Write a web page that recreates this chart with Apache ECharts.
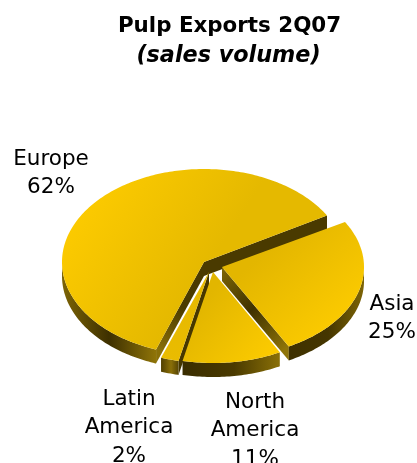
<!DOCTYPE html>
<html>
<head>
<meta charset="utf-8">
<style>html,body{margin:0;padding:0;background:#fff}#c{width:417px;height:463px}</style>
<script src="https://cdn.jsdelivr.net/npm/echarts@6/dist/echarts.min.js"></script>
</head>
<body>
<div id="c"></div>
<script>
// Data, clockwise from the top-right edge of Asia
const categories = ['Asia', 'North\nAmerica', 'Latin\nAmerica', 'Europe'];
const shares = [25, 11, 2, 62];
const titleMain = 'Pulp Exports 2Q07';
const titleSub = '(sales volume)';

// Layout only
const START_DEG = 30, RX = 142, DEPTH = 14;
const radiiY = [90, 91, 91, 93];
const centers = [[222, 267], [213, 272], [209, 272], [204, 262]];
const labelAt = [[392, 290], [255, 388], [129, 385], [51, 145]];
const layerOrder = [10, 30, 20, 0];
const topFill = [
  [[250, 265, 320, 340], ['#e3b600', '#fbca00']],
  [[205, 300, 270, 352], ['#e2b600', '#fbca00']],
  [[170, 300, 190, 360], ['#e6b900', '#eabc00']],
  [[75, 205, 195, 285], ['#fdcb00', '#e5b900']]
];
const wallStops = [
  [[291, 365], ['#3f3100', '#453600', '#7f6606']],
  [[185, 283], ['#3a2d00', '#4a3a00', '#8f7408']],
  [[160, 182], ['#4a3a00', '#8a6f08', '#3f3100']],
  [[62, 156], ['#7d6405', '#3e3000', '#8f7408']]
];
// The near side of the tilted disc looks slightly stretched
const NEAR_SPLIT = 0.38, NEAR_STRETCH = 1.0215;

const grad = (b, cols) => new echarts.graphic.LinearGradient(
  b[0], b[1], b[2], b[3],
  cols.map((c, i) => ({ offset: i / (cols.length - 1), color: c })), true);

const total = shares.reduce((a, b) => a + b, 0);

// share fraction walked clockwise -> drawn angle in degrees
function angleAt(t) {
  const m = NEAR_SPLIT * NEAR_STRETCH;
  const w = t <= NEAR_SPLIT ? t * NEAR_STRETCH
    : m + (t - NEAR_SPLIT) * (1 - m) / (1 - NEAR_SPLIT);
  return START_DEG - w * 360;
}

function renderItem(params, api) {
  const i = params.dataIndex;
  const before = shares.slice(0, i).reduce((a, b) => a + b, 0);
  const a1 = angleAt(before / total);                       // clockwise start
  const a0 = angleAt((before + api.value(0)) / total);      // clockwise end
  const [cx, cy] = centers[i];
  const ry = radiiY[i];
  const pt = (deg, dz) => {
    const r = deg * Math.PI / 180;
    return [cx + RX * Math.cos(r), cy - ry * Math.sin(r) + (dz || 0)];
  };
  const top = [[cx, cy]];
  for (let d = a0; d < a1; d += 1) top.push(pt(d));
  top.push(pt(a1));

  const z2 = layerOrder[i];
  const children = [];
  const poly = (points, fill) => children.push({
    type: 'polygon', z2, shape: { points }, style: { fill, stroke: null }
  });

  // Radial faces that look towards the viewer
  const face = (deg, body) => {
    poly([[cx, cy], pt(deg), pt(deg, DEPTH), [cx, cy + DEPTH]], body);
  };
  const name = categories[i];
  if (name === 'Europe') {
    face(a0, '#4a3a00');
    face(a1, grad([cx, cy, pt(a1)[0], pt(a1)[1]], ['#4a3a00', '#4a3a00', '#8a7008']));
  } else if (name === 'Asia') {
    face(a0, grad([cx, cy, pt(a0)[0], pt(a0)[1]], ['#7f6606', '#3f3100', '#8f7408']));
  } else if (name === 'Latin\nAmerica') {
    face(a1, '#463700');
  }

  // Outer rim, lower half of the ellipse only
  const s = Math.max(a0, -180), e = Math.min(a1, 0);
  if (e > s) {
    const up = [], dn = [];
    for (let d = s; d < e; d += 1) { up.push(pt(d)); dn.unshift(pt(d, DEPTH)); }
    up.push(pt(e)); dn.unshift(pt(e, DEPTH));
    const wx = wallStops[i][0];
    poly(up.concat(dn), grad([wx[0], 0, wx[1], 0], wallStops[i][1]));
  }

  poly(top, grad(topFill[i][0], topFill[i][1]));

  children.push({
    type: 'text', z2: 100,
    style: {
      text: name + '\n' + api.value(0) + '%',
      x: labelAt[i][0], y: labelAt[i][1],
      align: 'center', verticalAlign: 'top',
      font: '21.5px "DejaVu Sans"', lineHeight: 28.5, fill: '#000'
    }
  });
  return { type: 'group', children };
}

const chart = echarts.init(document.getElementById('c'), null, { renderer: 'canvas' });
chart.setOption({
  animation: false,
  backgroundColor: '#fff',
  title: [
    { text: titleMain, left: 224.5, top: 11, textAlign: 'center',
      textStyle: { fontFamily: 'DejaVu Sans', fontSize: 21.4, fontWeight: 'bold', color: '#000' } },
    { text: titleSub, left: 223.5, top: 40, textAlign: 'center',
      textStyle: { fontFamily: 'DejaVu Sans', fontSize: 22.3, fontWeight: 'bold', fontStyle: 'italic', color: '#000' } }
  ],
  series: [{
    type: 'custom',
    coordinateSystem: 'none',
    renderItem,
    clip: false,
    silent: true,
    data: shares.map((v, i) => ({ name: categories[i], value: [v] }))
  }]
});
</script>
</body>
</html>
